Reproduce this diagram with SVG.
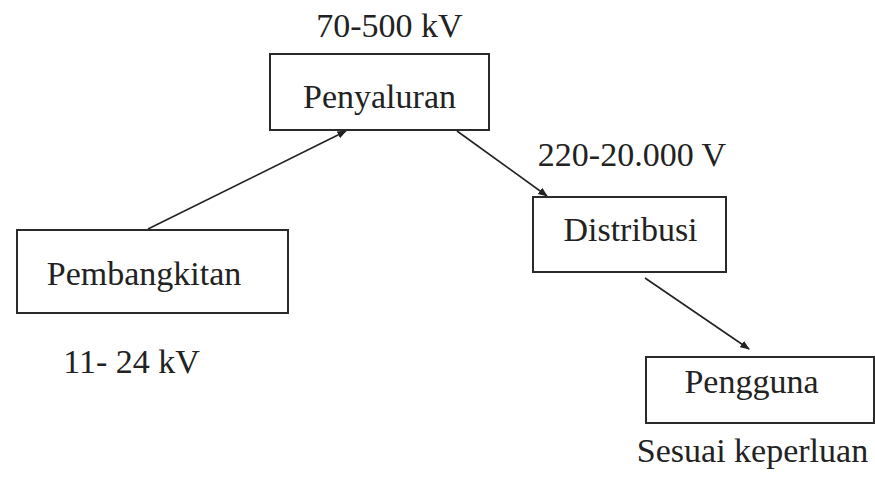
<svg xmlns="http://www.w3.org/2000/svg" width="875" height="482" viewBox="0 0 875 482">
  <style>
    .box { fill: #ffffff; stroke: #2a2a2a; stroke-width: 2; }
    .lbl { font-family: "Liberation Serif", "Times New Roman", serif; font-size: 34px; fill: #222222; }
    .edge { stroke: #222222; stroke-width: 1.6; fill: none; marker-end: url(#arrow); }
  </style>
  <defs>
    <marker id="arrow" viewBox="0 0 10 10" refX="9" refY="5" markerWidth="6" markerHeight="6" orient="auto" markerUnits="strokeWidth">
      <path d="M0,1 L10,5 L0,9 z" fill="#222222"/>
    </marker>
  </defs>
  <rect width="875" height="482" fill="#ffffff"/>

  <g id="connectors">
    <line class="edge" x1="148" y1="229" x2="346" y2="131"/>
    <line class="edge" x1="457" y1="131" x2="547" y2="196"/>
    <line class="edge" x1="645" y1="278" x2="749" y2="349"/>
  </g>

  <g id="penyaluran">
    <rect class="box" x="270" y="54" width="219" height="76"/>
    <text class="lbl" x="379.5" y="108" text-anchor="middle">Penyaluran</text>
    <text class="lbl" x="389.5" y="37" text-anchor="middle">70-500 kV</text>
  </g>

  <g id="pembangkitan">
    <rect class="box" x="17" y="230" width="271" height="83"/>
    <text class="lbl" x="144" y="285" text-anchor="middle">Pembangkitan</text>
    <text class="lbl" x="131.5" y="373" text-anchor="middle">11- 24 kV</text>
  </g>

  <g id="distribusi">
    <rect class="box" x="533" y="197" width="193" height="75"/>
    <text class="lbl" x="630.5" y="241" text-anchor="middle">Distribusi</text>
    <text class="lbl" x="632" y="166" text-anchor="middle">220-20.000 V</text>
  </g>

  <g id="pengguna">
    <rect class="box" x="646" y="357" width="228" height="66"/>
    <text class="lbl" x="751.5" y="393" text-anchor="middle">Pengguna</text>
    <text class="lbl" x="752.5" y="462" text-anchor="middle">Sesuai keperluan</text>
  </g>
</svg>
